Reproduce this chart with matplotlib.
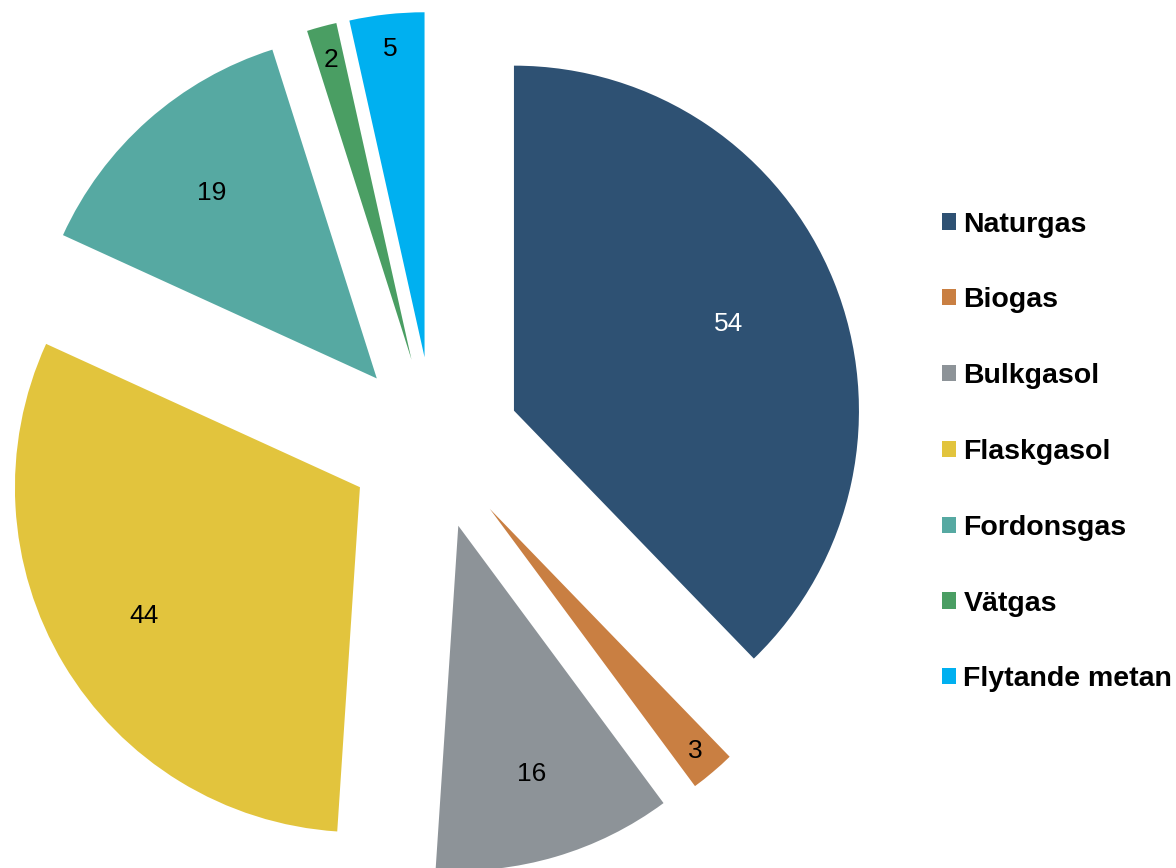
import matplotlib
matplotlib.use("Agg")
import matplotlib.pyplot as plt
import numpy as np
from matplotlib.patches import Patch

plt.rcParams['font.family'] = ['Liberation Sans', 'DejaVu Sans']

categories = ['Naturgas', 'Biogas', 'Bulkgasol', 'Flaskgasol', 'Fordonsgas', 'Vätgas', 'Flytande metan']
values = [54, 3, 16, 44, 19, 2, 5]
colors = ['#2E5173', '#C97F42', '#8D9398', '#E2C43D', '#56A9A2', '#4A9E63', '#00B0F0']
label_colors = ['white', 'black', 'black', 'black', 'black', 'black', 'black']
label_dist = [0.67, 0.92, 0.75, 0.73, 0.72, 0.90, 0.90]

W, H = 1176, 868
fig = plt.figure(figsize=(W / 100, H / 100), dpi=100)
ax = fig.add_axes([0, 0, 1, 1])

radius = 345
cx, cy = 434, H - 443
# explode is an absolute offset, so scale it by the radius
wedges, _ = ax.pie(values, colors=colors, startangle=90, counterclock=False,
                   radius=radius, center=(cx, cy), explode=[0.25 * radius] * len(values),
                   wedgeprops=dict(linewidth=0))

for w, v, c, d in zip(wedges, values, label_colors, label_dist):
    ang = np.deg2rad((w.theta1 + w.theta2) / 2)
    x = w.center[0] + d * w.r * np.cos(ang)
    y = w.center[1] + d * w.r * np.sin(ang)
    ax.text(x, y, str(v), color=c, fontsize=19, ha='center', va='center')

ax.set_xlim(0, W)
ax.set_ylim(0, H)
ax.set_aspect('auto')
ax.axis('off')

handles = [Patch(facecolor=c, edgecolor='none') for c in colors]
fig.legend(handles, categories, loc='center left', bbox_to_anchor=(942 / W, 1 - 452 / H),
           frameon=False, prop={'weight': 'bold', 'size': 20.5},
           handlelength=0.5, handleheight=0.5, handletextpad=0.25,
           labelspacing=1.75, borderpad=0, borderaxespad=0)

fig.savefig('out.png', dpi=100)
